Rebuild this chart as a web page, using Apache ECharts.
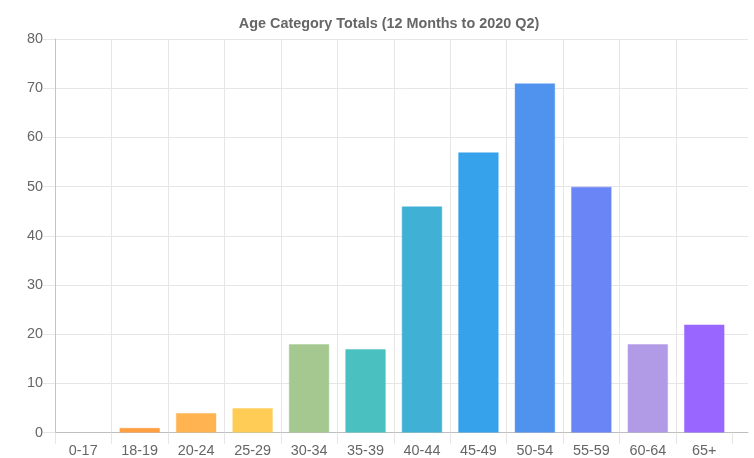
<!DOCTYPE html>
<html>
<head>
<meta charset="utf-8">
<title>Age Category Totals</title>
<script src="https://cdn.jsdelivr.net/npm/echarts@6/dist/echarts.min.js"></script>
<style>
    html, body {margin: 0;padding: 0;background: #fff;}
    #chart {width: 754px;height: 458px;}
</style>
</head>
<body>
<div id="chart"></div>
<script>
// age bands and totals
var categories = ['0-17', '18-19', '20-24', '25-29', '30-34', '35-39', '40-44', '45-49', '50-54', '55-59', '60-64', '65+'];
var totals = [0, 1, 4, 5, 18, 17, 46, 57, 71, 50, 18, 22];
var barColors = ['#ff6384', '#ff9f40', '#ffb451', '#ffcd56', '#a5c790', '#4bc0c0', '#41b0d5', '#36a2eb', '#4f93ef', '#6a85f5', '#b19ae6', '#9966ff'];
var yTicks = [0, 10, 20, 30, 40, 50, 60, 70, 80];

var font = '"Liberation Sans", Arial, Helvetica, sans-serif';

function fade(hex, a) {
    var n = parseInt(hex.slice(1), 16);
    return 'rgba(' + (n >> 16 & 255) + ',' + (n >> 8 & 255) + ',' + (n & 255) + ',' + a + ')';
}

var chart = echarts.init(document.getElementById('chart'));
chart.setOption({
    animation: false,
    title: {
        text: 'Age Category Totals (12 Months to 2020 Q2)',
        left: 384,
        top: 12,
        textAlign: 'center',
        textStyle: {fontSize: 14.4, fontWeight: 'bold', color: '#666', fontFamily: font}
    },
    grid: [
        // bars
        {left: 55, right: 21.5, top: 39, bottom: 25.3},
        // background lines run a bit further right
        {left: 55, right: 6, top: 39, bottom: 25.3}
    ],
    xAxis: [
        {
            type: 'category',
            gridIndex: 0,
            data: categories,
            axisLine: {lineStyle: {color: '#bfbfbf'}},
            axisTick: {show: true, length: 11, lineStyle: {color: '#e6e6e6'}},
            axisLabel: {color: '#666', fontSize: 14.4, fontFamily: font, margin: 11},
            splitLine: {show: true, showMaxLine: false, lineStyle: {color: '#e6e6e6'}}
        },
        {
            type: 'value',
            gridIndex: 1,
            min: 0,
            max: 1,
            axisLine: {show: true, onZero: false, lineStyle: {color: '#bfbfbf'}},
            axisTick: {show: false},
            axisLabel: {show: false},
            splitLine: {show: false}
        }
    ],
    yAxis: [
        {
            type: 'value',
            gridIndex: 0,
            min: yTicks[0],
            max: yTicks[yTicks.length - 1],
            interval: 10,
            axisLine: {show: true, lineStyle: {color: '#c4c4c4'}},
            axisTick: {show: true, length: 12, lineStyle: {color: '#e6e6e6'}},
            axisLabel: {color: '#666', fontSize: 14.4, fontFamily: font, margin: 12},
            splitLine: {show: false}
        },
        {
            type: 'value',
            gridIndex: 1,
            min: yTicks[0],
            max: yTicks[yTicks.length - 1],
            interval: 10,
            axisLine: {show: false},
            axisTick: {show: false},
            axisLabel: {show: false},
            splitLine: {show: true, lineStyle: {color: '#e6e6e6'}}
        }
    ],
    series: [
        {
            type: 'bar',
            xAxisIndex: 0,
            yAxisIndex: 0,
            barWidth: '72%',
            z: 3,
            data: totals.map(function (v, i) {
                return {
                    value: v,
                    itemStyle: {
                        color: barColors[i],
                        borderColor: fade(barColors[i], 0.45),
                        borderWidth: v > 0 ? 1 : 0
                    }
                };
            })
        }
    ]
});
</script>
</body>
</html>
